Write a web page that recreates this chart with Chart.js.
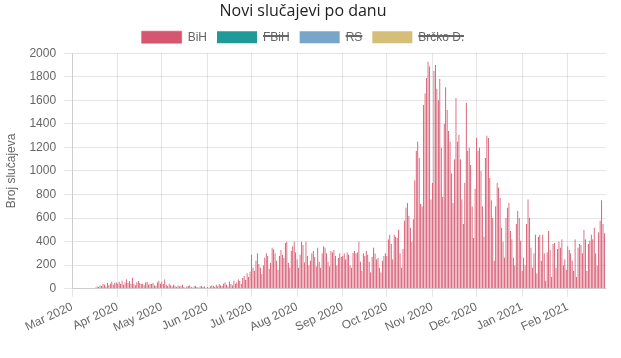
<!DOCTYPE html>
<html>
<head>
<meta charset="utf-8">
<script src="https://cdn.jsdelivr.net/npm/chart.js@4"></script>
<style>
  html, body { margin: 0; padding: 0; background: #fff; }
  #wrap { width: 621px; height: 358px; }
</style>
</head>
<body>
<div id="wrap"><canvas id="chart"></canvas></div>
<script>
// Daily new cases, BiH (one array per month)
const mar20 = [0, 0, 0, 0, 2, 0, 1, 0, 3, 2, 1, 4, 3, 2, 5, 6, 10, 20, 15, 30, 25, 40, 35, 20, 50, 30, 45, 60, 35, 50, 55];
const apr20 = [45, 60, 40, 70, 35, 55, 80, 50, 65, 45, 90, 40, 30, 55, 65, 50, 40, 45, 30, 55, 60, 35, 45, 40, 50, 30, 25, 55, 70, 45];
const may20 = [60, 40, 80, 35, 25, 45, 30, 20, 35, 25, 15, 30, 20, 25, 35, 15, 10, 20, 25, 30, 15, 10, 20, 25, 15, 10, 20, 25, 15, 20, 10];
const jun20 = [15, 10, 20, 30, 25, 15, 35, 20, 40, 30, 25, 45, 55, 35, 20, 60, 40, 30, 70, 45, 55, 80, 65, 40, 90, 110, 75, 130, 100, 145];
const jul20 = [290, 180, 150, 240, 300, 210, 180, 125, 200, 265, 300, 280, 170, 220, 350, 335, 300, 240, 160, 280, 330, 290, 260, 390, 400, 220, 180, 320, 360, 400, 310];
const aug20 = [250, 180, 290, 400, 370, 225, 400, 280, 200, 240, 300, 320, 270, 190, 350, 230, 180, 300, 360, 350, 300, 230, 190, 320, 310, 330, 280, 200, 260, 300, 270];
const sep20 = [280, 300, 250, 310, 290, 200, 180, 305, 320, 300, 310, 400, 230, 150, 300, 280, 320, 290, 230, 140, 270, 350, 300, 250, 260, 180, 140, 240, 280, 300];
const oct20 = [280, 420, 460, 380, 250, 460, 440, 430, 500, 300, 180, 340, 580, 690, 730, 620, 520, 400, 590, 920, 1170, 1250, 1110, 720, 700, 1560, 1660, 1790, 1930, 1890, 760];
const nov20 = [900, 1850, 1900, 1700, 1600, 1780, 1200, 780, 1400, 1710, 1520, 1340, 1250, 980, 730, 1100, 1620, 1250, 1310, 1100, 760, 550, 900, 1580, 1170, 1200, 1050, 700, 430, 850];
const dec20 = [1280, 1170, 1200, 1000, 700, 440, 1110, 1300, 1280, 940, 750, 600, 240, 700, 900, 860, 770, 520, 400, 265, 600, 690, 730, 490, 420, 265, 200, 550, 660, 600, 410];
const jan21 = [150, 265, 200, 550, 760, 600, 350, 180, 300, 460, 130, 440, 460, 240, 460, 300, 70, 310, 490, 330, 100, 380, 390, 180, 340, 400, 350, 420, 200, 250, 160];
const feb21 = [360, 330, 300, 240, 150, 420, 100, 350, 380, 370, 300, 500, 420, 150, 380, 410, 460, 420, 520, 300, 200, 480, 580, 750, 550, 470];

// Month ticks: day offset from 1 Mar 2020 and label
const monthStarts = [0, 31, 61, 92, 122, 153, 184, 214, 245, 275, 306, 337];
const monthLabels = ['Mar 2020', 'Apr 2020', 'May 2020', 'Jun 2020', 'Jul 2020', 'Aug 2020',
  'Sep 2020', 'Oct 2020', 'Nov 2020', 'Dec 2020', 'Jan 2021', 'Feb 2021'];

const bih = [].concat(mar20, apr20, may20, jun20, jul20, aug20, sep20, oct20, nov20, dec20, jan21, feb21);
const bihPoints = bih.map((v, i) => ({ x: i, y: v }));

const ctx = document.getElementById('chart').getContext('2d');
new Chart(ctx, {
  type: 'bar',
  data: {
    datasets: [
      { label: 'BiH', data: bihPoints, backgroundColor: '#e5899b', borderColor: '#d6566f', borderWidth: 0.6,
        barPercentage: 1, categoryPercentage: 0.9 },
      { label: 'FBiH', data: [], hidden: true, backgroundColor: '#1f9a98', borderColor: '#1f9a98' },
      { label: 'RS', data: [], hidden: true, backgroundColor: '#78a6c8', borderColor: '#78a6c8' },
      { label: 'Brčko D.', data: [], hidden: true, backgroundColor: '#d4be78', borderColor: '#d4be78' }
    ]
  },
  options: {
    responsive: true,
    maintainAspectRatio: false,
    animation: false,
    layout: { padding: { left: 0, right: 15, top: 0, bottom: 20 } },
    plugins: {
      title: {
        display: true,
        text: 'Novi slučajevi po danu',
        color: '#222',
        font: { family: 'Open Sans', size: 16, weight: 'normal' },
        padding: { top: 2, bottom: 0 }
      },
      legend: {
        labels: {
          color: '#666', boxWidth: 40, boxHeight: 12, font: { size: 12 },
          // legend boxes are drawn solid in the border colour
          generateLabels: (chart) => Chart.defaults.plugins.legend.labels.generateLabels(chart)
            .map(l => Object.assign(l, { fillStyle: l.strokeStyle }))
        },
        onClick: null
      },
      tooltip: { enabled: false }
    },
    scales: {
      x: {
        type: 'linear',
        min: 0,
        max: 363,
        offset: false,
        grid: { offset: false },
        afterBuildTicks: (scale) => { scale.ticks = monthStarts.map(v => ({ value: v })); },
        ticks: {
          autoSkip: false,
          minRotation: 25,
          maxRotation: 25,
          color: '#666',
          callback: (value) => {
            const i = monthStarts.indexOf(value);
            return i >= 0 ? monthLabels[i] : null;
          }
        }
      },
      y: {
        min: 0,
        max: 2000,
        ticks: { stepSize: 200, color: '#666', padding: 8, callback: (v) => String(v) },
        title: { display: true, text: 'Broj slučajeva', color: '#666', padding: { top: 4, bottom: 3 } }
      }
    }
  }
});
</script>
</body>
</html>
